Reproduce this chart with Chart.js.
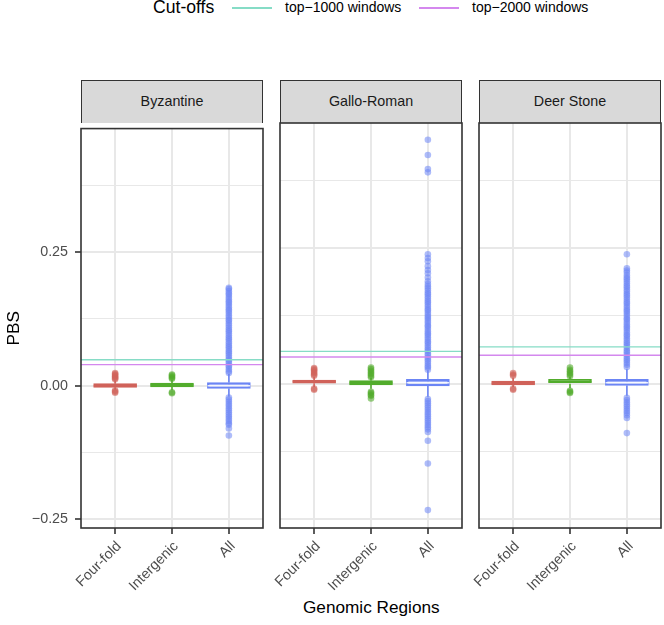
<!DOCTYPE html>
<html>
<head>
<meta charset="utf-8">
<script src="https://cdn.jsdelivr.net/npm/chart.js@4.4.1/dist/chart.umd.min.js"></script>
<style>
    body { margin: 0; width: 664px; height: 625px; background: #fff; position: relative; overflow: hidden;
           font-family: "Liberation Sans", Arial, sans-serif; }
    canvas { position: absolute; }
    .txt { position: absolute; white-space: nowrap; color: #000; }
    .key { position: absolute; height: 1.5px; width: 40px; }
    .strip { position: absolute; top: 80px; height: 43px; width: 182px; box-sizing: border-box;
             background: #d9d9d9; border: 1.6px solid #333; border-bottom: none;
             font-size: 14.3px; color: #1a1a1a; line-height: 41px; text-align: center; }
</style>
</head>
<body>

<div class="txt" style="left:153px; top:-3px; font-size:17.6px;">Cut-offs</div>
<div class="key" style="left:232px; top:7px; background:#86dcc6;"></div>
<div class="txt" style="left:285px; top:-1px; font-size:14px;">top−1000 windows</div>
<div class="key" style="left:419px; top:7px; background:#d488ee;"></div>
<div class="txt" style="left:472px; top:-1px; font-size:14px;">top−2000 windows</div>

<div class="txt" style="left:303px; top:597px; font-size:17.2px;">Genomic Regions</div>

<script>
// facets and categories
const facets = ['Byzantine', 'Gallo-Roman', 'Deer Stone'];
const categories = ['Four-fold', 'Intergenic', 'All'];

// y axis ticks
const yTickValues = [-0.25, 0, 0.25];
const yTickLabels = ['−0.25', '0.00', '0.25'];
const yMinorValues = [-0.125, 0.125, 0.375];

// cut-off lines, one value per facet
const top1000 = [0.0487, 0.0598, 0.068];
const top2000 = [0.0395, 0.0494, 0.0525];

// box stats, per facet, values per category (Four-fold, Intergenic, All)
const byzQ1 = [-0.003, -0.002, -0.005];
const byzMed = [0.000, 0.002, 0.000];
const byzQ3 = [0.004, 0.005, 0.006];
const byzLo = [-0.007, -0.008, -0.020];
const byzHi = [0.010, 0.011, 0.022];

const galQ1 = [0.001, -0.002, -0.004];
const galMed = [0.004, 0.002, 0.002];
const galQ3 = [0.007, 0.006, 0.008];
const galLo = [-0.006, -0.009, -0.024];
const galHi = [0.013, 0.011, 0.025];

const deeQ1 = [-0.002, 0.000, -0.003];
const deeMed = [0.001, 0.004, 0.002];
const deeQ3 = [0.005, 0.008, 0.008];
const deeLo = [-0.006, -0.008, -0.022];
const deeHi = [0.011, 0.013, 0.027];

// outliers
const byzFourfold = [0.012, 0.014, 0.016, 0.018, 0.020, 0.022, 0.024, -0.009, -0.011, -0.013];
const byzIntergenic = [0.013, 0.015, 0.017, 0.019, 0.021, -0.012, -0.014];
const byzAll = [0.024, 0.027, 0.031, 0.035, 0.038, 0.042, 0.046, 0.049, 0.053, 0.057, 0.061, 0.064,
    0.068, 0.072, 0.075, 0.079, 0.083, 0.087, 0.090, 0.094, 0.098, 0.102, 0.105, 0.109, 0.113, 0.117,
    0.121, 0.124, 0.128, 0.132, 0.136, 0.140, 0.143, 0.147, 0.151, 0.155, 0.158, 0.162, 0.166, 0.170,
    0.173, 0.177, 0.181, 0.183,
    -0.022, -0.026, -0.030, -0.034, -0.038, -0.042, -0.046, -0.050, -0.054, -0.058, -0.062, -0.066,
    -0.070, -0.073, -0.080, -0.093];

const galFourfold = [0.015, 0.017, 0.020, 0.022, 0.025, 0.027, 0.029, -0.009, -0.011];
const galIntergenic = [0.012, 0.015, 0.018, 0.021, 0.024, 0.027, 0.030, -0.015, -0.017, -0.020, -0.022, -0.027];
const galAll = [0.026, 0.030, 0.033, 0.037, 0.041, 0.045, 0.048, 0.052, 0.056, 0.060, 0.063, 0.067,
    0.071, 0.075, 0.078, 0.082, 0.086, 0.090, 0.093, 0.097, 0.101, 0.105, 0.108, 0.112, 0.116, 0.120,
    0.123, 0.127, 0.131, 0.135, 0.138, 0.142, 0.146, 0.150, 0.153, 0.157, 0.161, 0.165, 0.168, 0.172,
    0.176, 0.180, 0.184, 0.189, 0.196, 0.204, 0.210, 0.217, 0.226, 0.232, 0.239,
    0.390, 0.396, 0.422, 0.450,
    -0.028, -0.032, -0.036, -0.040, -0.044, -0.048, -0.052, -0.056, -0.060, -0.064, -0.068, -0.072,
    -0.076, -0.080, -0.084, -0.089, -0.105, -0.147, -0.233];

const deeFourfold = [0.015, 0.017, 0.020, -0.009, -0.011];
const deeIntergenic = [0.014, 0.017, 0.020, 0.023, 0.026, 0.030, -0.013, -0.015, -0.017];
const deeAll = [0.031, 0.035, 0.039, 0.043, 0.046, 0.050, 0.054, 0.058, 0.061, 0.065, 0.069, 0.073,
    0.076, 0.080, 0.084, 0.088, 0.091, 0.095, 0.099, 0.103, 0.106, 0.110, 0.114, 0.118, 0.121, 0.125,
    0.129, 0.133, 0.136, 0.140, 0.144, 0.148, 0.151, 0.155, 0.159, 0.163, 0.166, 0.170, 0.174, 0.178,
    0.181, 0.185, 0.189, 0.193, 0.196, 0.200, 0.205, 0.209, 0.213, 0.239,
    -0.026, -0.030, -0.034, -0.038, -0.042, -0.046, -0.050, -0.054, -0.058, -0.063, -0.091];

const panels = [
    { q1: byzQ1, med: byzMed, q3: byzQ3, lo: byzLo, hi: byzHi, out: [byzFourfold, byzIntergenic, byzAll] },
    { q1: galQ1, med: galMed, q3: galQ3, lo: galLo, hi: galHi, out: [galFourfold, galIntergenic, galAll] },
    { q1: deeQ1, med: deeMed, q3: deeQ3, lo: deeLo, hi: deeHi, out: [deeFourfold, deeIntergenic, deeAll] }
];

// styles
const lineColors = ['#d0625a', '#52ac2c', '#6b85f5'];
const pointColors = ['rgba(208,98,90,0.6)', 'rgba(82,172,44,0.6)', 'rgba(107,133,245,0.55)'];
const boxFills = ['#d0625a', '#52ac2c', 'rgba(107,133,245,0.3)'];
const medianColors = ['#d0625a', '#52ac2c', 'rgba(255,255,255,0.85)'];
const panelLeft = [81, 280, 479];
const panelWidth = 182;
const fontFamily = '"Liberation Sans", Arial, sans-serif';
const gridColor = '#e8e8e8';

const panelBorder = {
    id: 'panelBorder',
    afterDatasetsDraw(chart) {
        const a = chart.chartArea;
        const ctx = chart.ctx;
        ctx.save();
        ctx.strokeStyle = '#333';
        ctx.lineWidth = 1.6;
        ctx.strokeRect(a.left, a.top, a.right - a.left, a.bottom - a.top);
        ctx.restore();
    }
};

const buildDatasets = (p, f) => {
    const sets = [];
    sets.push({ type: 'line', data: [{ x: -0.6, y: top1000[f] }, { x: 2.6, y: top1000[f] }],
        borderColor: '#86dcc6', borderWidth: 1.4, pointRadius: 0, order: 0 });
    sets.push({ type: 'line', data: [{ x: -0.6, y: top2000[f] }, { x: 2.6, y: top2000[f] }],
        borderColor: '#d488ee', borderWidth: 1.4, pointRadius: 0, order: 0 });
    categories.forEach((c, i) => {
        sets.push({ type: 'line', data: [{ x: i - 0.375, y: p.med[i] }, { x: i + 0.375, y: p.med[i] }],
            borderColor: medianColors[i], borderWidth: 1.4, pointRadius: 0, order: 1 });
        sets.push({ type: 'scatter', data: p.out[i].map(v => ({ x: i, y: v })),
            backgroundColor: pointColors[i], borderWidth: 0, pointRadius: 3.3, order: 3 });
        sets.push({ type: 'line', data: [{ x: i, y: p.lo[i] }, { x: i, y: p.q1[i] }, { x: i, y: null },
            { x: i, y: p.q3[i] }, { x: i, y: p.hi[i] }],
            borderColor: lineColors[i], borderWidth: 1.6, pointRadius: 0, spanGaps: false, order: 4 });
    });
    sets.push({ type: 'bar', data: categories.map((c, i) => ({ x: i, y: [p.q1[i], p.q3[i]] })),
        backgroundColor: boxFills, borderColor: lineColors, borderWidth: 1.6, borderSkipped: false,
        barThickness: 43, order: 2 });
    return sets;
};

const renderPanel = (p, f) => {
    const first = f === 0;
    const strip = document.createElement('div');
    strip.className = 'strip';
    strip.style.left = panelLeft[f] + 'px';
    strip.textContent = facets[f];
    document.body.appendChild(strip);

    const canvas = document.createElement('canvas');
    const padLeft = first ? 0 : 20;
    const yWidth = first ? 81 : 0;
    const left = panelLeft[f] - padLeft - yWidth;
    const width = padLeft + yWidth + panelWidth + 10;
    canvas.style.left = left + 'px';
    canvas.style.top = '113px';
    canvas.style.width = width + 'px';
    canvas.style.height = '487px';
    canvas.width = width;
    canvas.height = 487;
    document.body.appendChild(canvas);

    new Chart(canvas, {
        type: 'scatter',
        data: { datasets: buildDatasets(p, f) },
        plugins: [panelBorder],
        options: {
            responsive: false,
            animation: false,
            layout: { padding: { left: padLeft, top: 10, right: 10, bottom: 0 } },
            plugins: { legend: { display: false }, tooltip: { enabled: false } },
            scales: {
                x: {
                    type: 'linear', min: -0.6, max: 2.6, offset: false,
                    afterBuildTicks: s => { s.ticks = categories.map((c, i) => ({ value: i })); },
                    afterFit: s => { s.height = 72; },
                    border: { display: false },
                    grid: { offset: false, color: gridColor, lineWidth: 2, tickLength: 6, tickColor: '#333', tickWidth: 1.6 },
                    ticks: {
                        minRotation: 45, maxRotation: 45, padding: 4, labelOffset: 4,
                        color: '#4d4d4d', font: { size: 14.3, family: fontFamily },
                        callback: v => categories[v]
                    }
                },
                y: {
                    type: 'linear', min: -0.266, max: 0.481,
                    afterBuildTicks: s => {
                        s.ticks = yTickValues.concat(yMinorValues).sort((a, b) => a - b).map(v => ({ value: v }));
                    },
                    afterFit: s => { s.width = yWidth; },
                    border: { display: false },
                    grid: {
                        color: gridColor,
                        lineWidth: ctx => yTickValues.includes(ctx.tick.value) ? 2 : 1.1,
                        drawTicks: first, tickLength: 6, tickWidth: 1.6,
                        tickColor: ctx => yTickValues.includes(ctx.tick.value) ? '#333' : 'rgba(0,0,0,0)'
                    },
                    title: {
                        display: first, text: 'PBS', color: '#000', padding: { top: 4, bottom: 0 },
                        font: { size: 17.2, family: fontFamily }
                    },
                    ticks: {
                        display: first, padding: 7, color: '#4d4d4d',
                        font: { size: 14.3, family: fontFamily },
                        callback: v => {
                            const k = yTickValues.indexOf(v);
                            return k >= 0 ? yTickLabels[k] : '';
                        }
                    }
                }
            }
        }
    });
};

panels.forEach((p, f) => renderPanel(p, f));
</script>
</body>
</html>
